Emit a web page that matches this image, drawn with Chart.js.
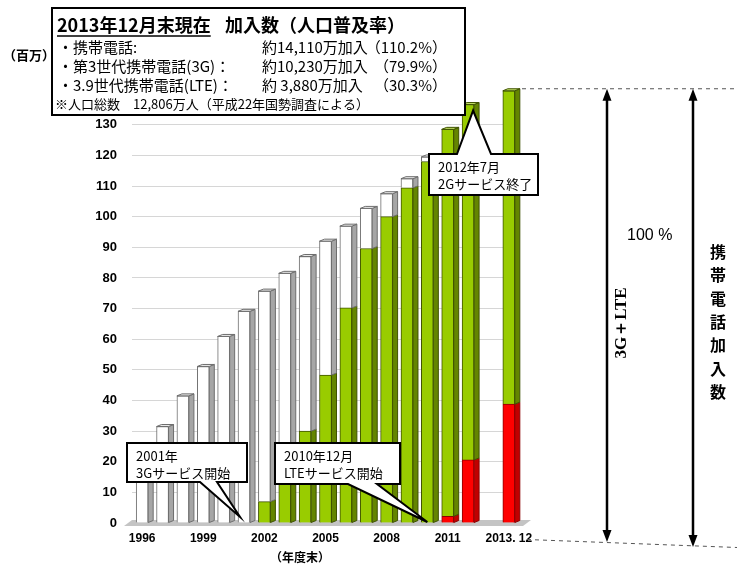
<!DOCTYPE html>
<html>
<head>
<meta charset="utf-8">
<script src="https://cdn.jsdelivr.net/npm/chart.js@4.4.1/dist/chart.umd.min.js"></script>
<style>
  html, body { margin: 0; padding: 0; background: #fff; }
  canvas { display: block; }
</style>
</head>
<body>
<canvas id="chart" width="737" height="565"></canvas>
<script>
// fiscal year end, millions of subscriptions (empty slot = gap before 2013.12)
const categories = ['1996','1997','1998','1999','2000','2001','2002','2003','2004','2005',
  '2006','2007','2008','2009','2010','2011','2012','','2013. 12'];
const tickYears = ['1996','1999','2002','2005','2008','2011','2013. 12'];
const yTicks = [0,10,20,30,40,50,60,70,80,90,100,110,120,130];

const lteValues = [0,0,0,0,0,0,0,0,0,0,0,0,0,0,0,2.2,20.6,null,38.8];
const g3Values  = [0,0,0,0,0,0,7.0,17.0,30.0,48.3,70.2,89.6,100.0,109.4,118.0,126.3,116.0,null,102.3];
const g2Values  = [20.9,31.5,41.5,51.1,60.9,69.1,68.7,64.5,57.0,43.7,26.7,13.1,7.5,3.0,1.5,0,0,null,0];

const JP = '"Noto Sans CJK JP", sans-serif';
const LAT = '"Liberation Sans", Arial, sans-serif';

function callout(ctx, box, base, tip, onTop, lines) {
  const [x0, y0, x1, y1] = box;
  ctx.beginPath();
  if (onTop) {
    ctx.moveTo(x0, y0); ctx.lineTo(base[0], y0); ctx.lineTo(tip[0], tip[1]);
    ctx.lineTo(base[1], y0); ctx.lineTo(x1, y0); ctx.lineTo(x1, y1); ctx.lineTo(x0, y1);
  } else {
    ctx.moveTo(x0, y0); ctx.lineTo(x1, y0); ctx.lineTo(x1, y1); ctx.lineTo(base[1], y1);
    ctx.lineTo(tip[0], tip[1]); ctx.lineTo(base[0], y1); ctx.lineTo(x0, y1);
  }
  ctx.closePath();
  ctx.fillStyle = '#fff';
  ctx.fill();
  ctx.lineWidth = 2;
  ctx.strokeStyle = '#000';
  ctx.lineJoin = 'miter';
  ctx.stroke();
  ctx.fillStyle = '#000';
  ctx.font = '13px ' + JP;
  ctx.textAlign = 'left';
  ctx.textBaseline = 'middle';
  ctx.fillText(lines[0], x0 + 9, y0 + 13);
  ctx.fillText(lines[1], x0 + 9, y0 + 30);
}

function doubleArrow(ctx, x, ya, yb) {
  ctx.strokeStyle = '#000';
  ctx.fillStyle = '#000';
  ctx.lineWidth = 2.5;
  ctx.beginPath(); ctx.moveTo(x, ya + 8); ctx.lineTo(x, yb - 8); ctx.stroke();
  ctx.beginPath(); ctx.moveTo(x, ya); ctx.lineTo(x - 4.5, ya + 12); ctx.lineTo(x + 4.5, ya + 12); ctx.closePath(); ctx.fill();
  ctx.beginPath(); ctx.moveTo(x, yb); ctx.lineTo(x - 4.5, yb - 12); ctx.lineTo(x + 4.5, yb - 12); ctx.closePath(); ctx.fill();
}

const depthPlugin = {
  id: 'depth',
  beforeDatasetsDraw(chart) {
    const ctx = chart.ctx, a = chart.chartArea;
    const b = chart.scales.y.getPixelForValue(0);
    ctx.save();
    ctx.fillStyle = '#c4c4c4';
    ctx.beginPath();
    ctx.moveTo(a.left - 8, b + 3); ctx.lineTo(a.right + 4, b + 3);
    ctx.lineTo(a.right + 12, b - 3); ctx.lineTo(a.left, b - 3);
    ctx.closePath(); ctx.fill();
    ctx.restore();
  },
  afterDatasetsDraw(chart) {
    const ctx = chart.ctx, dx = 5, dy = 2;
    ctx.save();
    chart.data.datasets.forEach((ds, di) => {
      const meta = chart.getDatasetMeta(di);
      meta.data.forEach((bar, i) => {
        if (!ds.data[i]) return;
        const p = bar.getProps(['x', 'y', 'base', 'width'], true);
        const l = p.x - p.width / 2, r = p.x + p.width / 2;
        ctx.lineWidth = 1;
        ctx.strokeStyle = ds.borderColor;
        ctx.fillStyle = ds.sideColor;
        ctx.beginPath();
        ctx.moveTo(r, p.y); ctx.lineTo(r + dx, p.y - dy); ctx.lineTo(r + dx, p.base - dy); ctx.lineTo(r, p.base);
        ctx.closePath(); ctx.fill(); ctx.stroke();
        const above = chart.data.datasets.slice(di + 1).some(d => d.data[i] > 0);
        if (!above) {
          ctx.fillStyle = ds.topColor;
          ctx.beginPath();
          ctx.moveTo(l, p.y); ctx.lineTo(l + dx, p.y - dy); ctx.lineTo(r + dx, p.y - dy); ctx.lineTo(r, p.y);
          ctx.closePath(); ctx.fill(); ctx.stroke();
        }
      });
    });
    ctx.restore();
  },
  afterDraw(chart) {
    const ctx = chart.ctx, xs = chart.scales.x, ys = chart.scales.y;
    ctx.save();

    // header box
    ctx.fillStyle = '#fff';
    ctx.fillRect(52, 8, 413, 107);
    ctx.lineWidth = 2;
    ctx.strokeStyle = '#000';
    ctx.strokeRect(52, 8, 413, 107);
    ctx.fillStyle = '#000';
    ctx.textBaseline = 'middle';
    ctx.textAlign = 'left';
    ctx.font = 'bold 18px ' + JP;
    ctx.fillText('2013年12月末現在', 57, 25);
    const w = ctx.measureText('2013年12月末現在').width;
    ctx.lineWidth = 1.5;
    ctx.beginPath(); ctx.moveTo(57, 36); ctx.lineTo(57 + w, 36); ctx.stroke();
    ctx.fillText('加入数（人口普及率）', 225, 25);

    const rows = [
      ['・携帯電話:', '約14,110万加入', '（110.2%）'],
      ['・第3世代携帯電話(3G)：', '約10,230万加入', '（79.9%）'],
      ['・3.9世代携帯電話(LTE)：', '約 3,880万加入', '（30.3%）']
    ];
    ctx.font = '15px ' + JP;
    rows.forEach((r, k) => {
      const y = 47 + k * 19;
      ctx.textAlign = 'left';
      ctx.fillText(r[0], 58, y);
      ctx.fillText(r[1], 262, y);
      ctx.textAlign = 'right';
      ctx.fillText(r[2], 447, y);
    });
    ctx.textAlign = 'left';
    ctx.font = '13px ' + JP;
    ctx.fillText('※人口総数　12,806万人（平成22年国勢調査による）', 55, 104);

    ctx.font = 'bold 13px ' + JP;
    ctx.textAlign = 'center';
    ctx.fillText('（百万）', 29, 55);
    ctx.font = 'bold 12px ' + JP;
    ctx.fillText('（年度末）', 300, 557);

    // callouts
    const y0 = ys.getPixelForValue(0);
    callout(ctx, [127, 443, 247, 482], [200, 217], [xs.getPixelForValue(5) - 4, y0 - 6], false,
      ['2001年', '3Gサービス開始']);
    callout(ctx, [275, 443, 400, 484], [348, 377], [xs.getPixelForValue(14), y0 - 1], false,
      ['2010年12月', 'LTEサービス開始']);
    const top12 = ys.getPixelForValue(lteValues[16] + g3Values[16] + g2Values[16]);
    callout(ctx, [429, 154, 538, 195], [457, 491], [xs.getPixelForValue(16) + 5, top12 + 6], true,
      ['2012年7月', '2Gサービス終了']);

    // right-side brackets
    const yTop = ys.getPixelForValue(lteValues[18] + g3Values[18] + g2Values[18]) - 2;
    ctx.strokeStyle = '#555';
    ctx.lineWidth = 1;
    ctx.setLineDash([4, 4]);
    ctx.beginPath(); ctx.moveTo(522, yTop); ctx.lineTo(737, yTop); ctx.stroke();
    ctx.beginPath(); ctx.moveTo(527, 539.5); ctx.lineTo(737, 547.5); ctx.stroke();
    ctx.setLineDash([]);
    doubleArrow(ctx, 607, yTop, 542);
    doubleArrow(ctx, 693, yTop, 547);

    ctx.fillStyle = '#000';
    ctx.font = '16px ' + LAT;
    ctx.textAlign = 'left';
    ctx.fillText('100 %', 627, 236);

    ctx.save();
    ctx.translate(622, 323);
    ctx.rotate(-Math.PI / 2);
    ctx.textAlign = 'center';
    ctx.font = 'bold 17px "Liberation Serif", serif';
    ctx.fillText('3G＋LTE', 0, 0);
    ctx.restore();

    ctx.font = 'bold 16px ' + JP;
    ctx.textAlign = 'center';
    Array.from('携帯電話加入数').forEach((ch, k) => ctx.fillText(ch, 718, 252 + k * 23.3));

    ctx.restore();
  }
};

new Chart(document.getElementById('chart'), {
  type: 'bar',
  data: {
    labels: categories,
    datasets: [
      { label: 'LTE', data: lteValues, backgroundColor: '#ff0000', borderColor: '#8c0000',
        sideColor: '#c00000', topColor: '#ff6666', borderWidth: 1, barThickness: 12 },
      { label: '3G', data: g3Values, backgroundColor: '#99cc00', borderColor: '#3f5200',
        sideColor: '#648500', topColor: '#c2e066', borderWidth: 1, barThickness: 12 },
      { label: '2G', data: g2Values, backgroundColor: '#ffffff', borderColor: '#6e6e6e',
        sideColor: '#a6a6a6', topColor: '#e8e8e8', borderWidth: 1, barThickness: 12 }
    ]
  },
  options: {
    responsive: false,
    animation: false,
    layout: { padding: { left: 72, right: 218, top: 88, bottom: 12 } },
    plugins: { legend: { display: false }, tooltip: { enabled: false } },
    scales: {
      x: {
        stacked: true,
        offset: true,
        grid: { display: false },
        border: { display: false },
        ticks: {
          autoSkip: false, maxRotation: 0, minRotation: 0, padding: 0,
          color: '#000', font: { family: LAT, size: 12, weight: 'bold' },
          callback: (v, i) => tickYears.includes(categories[i]) ? categories[i] : ''
        },
        afterFit: s => { s.height = 30; }
      },
      y: {
        stacked: true,
        min: 0,
        max: 142,
        afterBuildTicks: s => { s.ticks = yTicks.map(v => ({ value: v })); },
        grid: { color: '#d6d6d6', drawTicks: false },
        border: { display: false },
        ticks: { padding: 15, color: '#000', font: { family: LAT, size: 13, weight: 'bold' } },
        afterFit: s => { s.width = 60; }
      }
    }
  },
  plugins: [depthPlugin]
});
</script>
</body>
</html>
